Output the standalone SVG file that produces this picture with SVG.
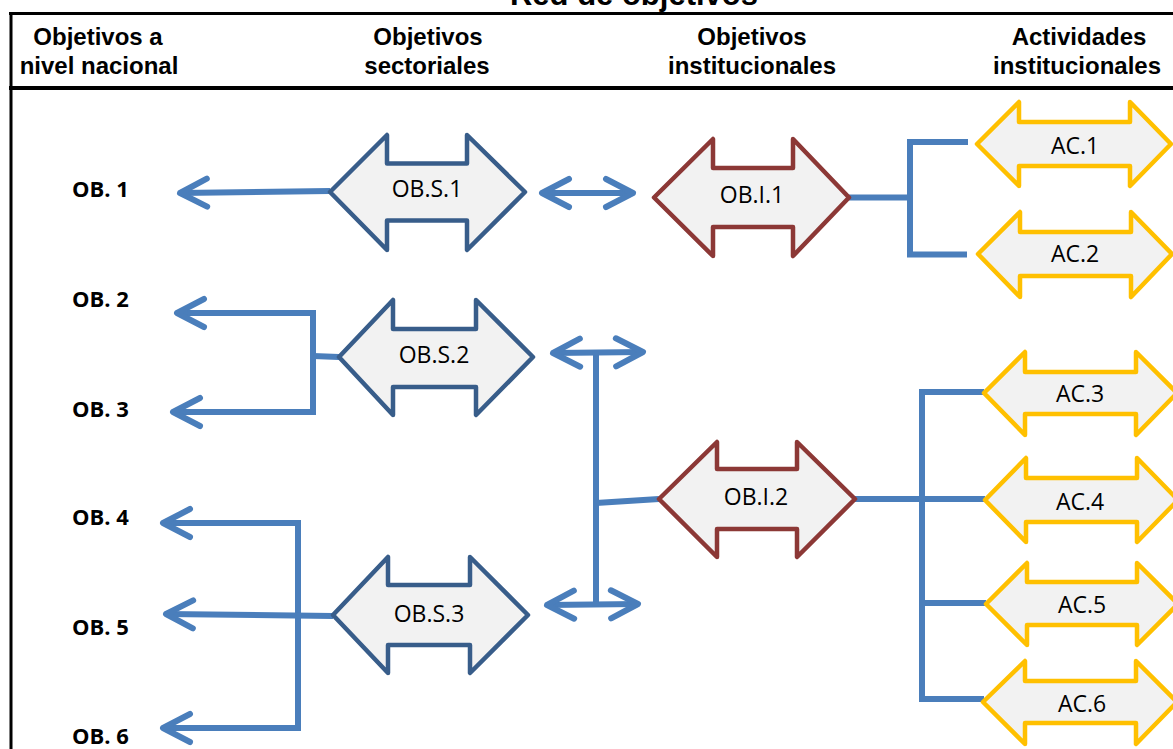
<svg xmlns="http://www.w3.org/2000/svg" width="1173" height="749" viewBox="0 0 1173 749">
<style>
.frame{stroke:#000;fill:none}
.hdr{font-family:"Liberation Sans",Arial,sans-serif;font-weight:bold;font-size:24px;fill:#000;text-anchor:middle}
.title{font-family:"Liberation Sans",Arial,sans-serif;font-weight:bold;font-size:31px;fill:#000;text-anchor:middle}
.ob{font-family:"Open Sans","Lato",sans-serif;font-weight:bold;font-size:22px;fill:#000}
.lbl{font-family:"Open Sans","Lato",sans-serif;font-size:23px;fill:#000;text-anchor:middle}
.sec{fill:#F2F2F2;stroke:#385D8A;stroke-width:4.5;stroke-linejoin:round}
.ins{fill:#F2F2F2;stroke:#8C3836;stroke-width:4.5;stroke-linejoin:round}
.act{fill:#F2F2F2;stroke:#FFC000;stroke-width:4.5;stroke-linejoin:round}
.con{fill:none;stroke:#4A7EBB;stroke-width:6;stroke-linejoin:miter}
.arr{marker-end:url(#ah)}
.dbl{marker-start:url(#ah);marker-end:url(#ah)}
</style>
<defs>
<marker id="ah" viewBox="-34 -20 40 40" refX="0" refY="0" markerWidth="40" markerHeight="40" markerUnits="userSpaceOnUse" orient="auto-start-reverse" overflow="visible">
<path d="M-27,-14 L0,0 L-27,14" fill="none" stroke="#4A7EBB" stroke-width="6" stroke-linecap="round" stroke-linejoin="round"/>
</marker>
</defs>
<rect width="1173" height="749" fill="#FFFFFF"/>

<g id="frame">
<text class="title" x="634" y="5">Red de objetivos</text>
<line class="frame" x1="9" y1="13.5" x2="1173" y2="13.5" stroke-width="3"/>
<line class="frame" x1="11" y1="12" x2="11" y2="749" stroke-width="3"/>
<line class="frame" x1="9" y1="88" x2="1173" y2="88" stroke-width="4"/>
<text class="hdr" x="98" y="45">Objetivos a</text>
<text class="hdr" x="99" y="74">nivel nacional</text>
<text class="hdr" x="428" y="45">Objetivos</text>
<text class="hdr" x="427" y="74">sectoriales</text>
<text class="hdr" x="752" y="45">Objetivos</text>
<text class="hdr" x="752" y="74">institucionales</text>
<text class="hdr" x="1079" y="45">Actividades</text>
<text class="hdr" x="1077" y="74">institucionales</text>
</g>

<g id="connectors">
<path class="con arr" d="M330,191 L180,193"/>
<path class="con dbl" d="M542,193 L633,193"/>
<path class="con dbl" d="M177,313 L313,313 L313,412 L173,412"/>
<path class="con" d="M313,356 L339,357"/>
<path class="con dbl" d="M163,523 L298,523 L298,728 L163,728"/>
<path class="con arr" d="M333,616 L166,614"/>
<path class="con" d="M596,353 L596,605"/>
<path class="con dbl" d="M553,353 L643,352"/>
<path class="con dbl" d="M547,605 L638,604"/>
<path class="con" d="M596,503 L659,499"/>
<path class="con" d="M849,197.5 L910,197.5"/>
<path class="con" d="M968,142 L910,142 L910,254.5 L967,254.5"/>
<path class="con" d="M855,499 L922,499"/>
<path class="con" d="M984,392 L922,392 L922,699 L984,699"/>
<path class="con" d="M922,499 L985,499"/>
<path class="con" d="M922,603 L986,603"/>
</g>

<g id="ob1"><text class="ob" x="72" y="197">OB. 1</text></g>
<g id="ob2"><text class="ob" x="72" y="307">OB. 2</text></g>
<g id="ob3"><text class="ob" x="72" y="417">OB. 3</text></g>
<g id="ob4"><text class="ob" x="72" y="525">OB. 4</text></g>
<g id="ob5"><text class="ob" x="72" y="635">OB. 5</text></g>
<g id="ob6"><text class="ob" x="72" y="744">OB. 6</text></g>

<g id="obs1">
<polygon class="sec" points="330,192 387,135 387,163.5 467,163.5 467,135 525,192 467,250 467,220.5 387,220.5 387,250"/>
<text class="lbl" x="427" y="197">OB.S.1</text>
</g>
<g id="obs2">
<polygon class="sec" points="339,357 393,300 393,329 476,329 476,300 533,357 476,415 476,387 393,387 393,415"/>
<text class="lbl" x="434" y="363">OB.S.2</text>
</g>
<g id="obs3">
<polygon class="sec" points="333,615 388,557 388,585 470,585 470,557 528,615 470,673 470,645 388,645 388,673"/>
<text class="lbl" x="429" y="622">OB.S.3</text>
</g>

<g id="obi1">
<polygon class="ins" points="654,197.5 713,139 713,168 793,168 793,139 849,197.5 793,256 793,227 713,227 713,256"/>
<text class="lbl" x="752" y="203">OB.I.1</text>
</g>
<g id="obi2">
<polygon class="ins" points="659,499 717,442 717,469 797,469 797,442 855,499 797,557 797,529 717,529 717,557"/>
<text class="lbl" x="756" y="505">OB.I.2</text>
</g>

<g id="ac1">
<polygon class="act" points="977,144 1019,102 1019,122 1130,122 1130,102 1171,144 1130,186 1130,166 1019,166 1019,186"/>
<text class="lbl" x="1075" y="154">AC.1</text>
</g>
<g id="ac2">
<polygon class="act" points="978,254 1020,212 1020,232 1131,232 1131,212 1172,254 1131,297 1131,276 1020,276 1020,297"/>
<text class="lbl" x="1075" y="262">AC.2</text>
</g>
<g id="ac3">
<polygon class="act" points="984,393 1025,352 1025,372 1136,372 1136,352 1177,393 1136,435 1136,414 1025,414 1025,435"/>
<text class="lbl" x="1080" y="402">AC.3</text>
</g>
<g id="ac4">
<polygon class="act" points="985,500 1026,458 1026,478 1137,478 1137,458 1178,500 1137,542 1137,522 1026,522 1026,542"/>
<text class="lbl" x="1080" y="510">AC.4</text>
</g>
<g id="ac5">
<polygon class="act" points="986,604 1027,563 1027,582 1137,582 1137,563 1178,604 1137,645 1137,625 1027,625 1027,645"/>
<text class="lbl" x="1082" y="613">AC.5</text>
</g>
<g id="ac6">
<polygon class="act" points="983,702 1025,661 1025,681 1136,681 1136,661 1177,702 1136,744 1136,723 1025,723 1025,744"/>
<text class="lbl" x="1082" y="712">AC.6</text>
</g>
</svg>
